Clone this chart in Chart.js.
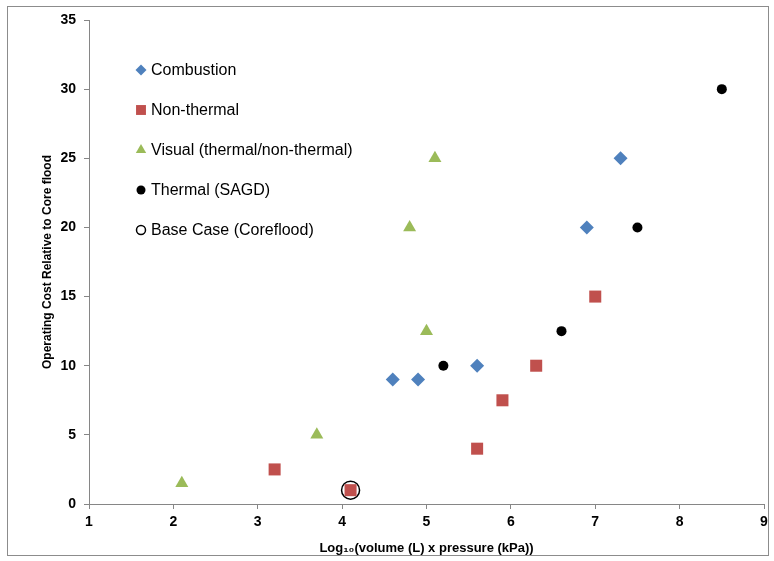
<!DOCTYPE html>
<html>
<head>
<meta charset="utf-8">
<script src="https://cdn.jsdelivr.net/npm/chart.js@4"></script>
<style>
  html, body { margin: 0; padding: 0; background: #fff; }
  #wrap { position: absolute; left: 0; top: 0; width: 774px; height: 561px; }
</style>
</head>
<body>
<div id="wrap"><canvas id="chart" width="774" height="561"></canvas></div>
<script>
// ===== DADOS =====
const combustionX = [4.6, 4.9, 5.6, 6.9, 7.3];
const combustionY = [9, 9, 10, 20, 25];

const nonThermalX = [3.2, 4.1, 5.6, 5.9, 6.3, 7.0];
const nonThermalY = [2.5, 1, 4, 7.5, 10, 15];

const visualX = [2.1, 3.7, 4.8, 5.0, 5.1];
const visualY = [1.5, 5, 20, 12.5, 25];

const thermalX = [5.2, 6.6, 7.5, 8.5];
const thermalY = [10, 12.5, 20, 30];

const baseX = [4.1];
const baseY = [1];

const seriesNames = ['Combustion', 'Non-thermal', 'Visual (thermal/non-thermal)', 'Thermal (SAGD)', 'Base Case (Coreflood)'];
const xTicks = [1, 2, 3, 4, 5, 6, 7, 8, 9];
const yTicks = [0, 5, 10, 15, 20, 25, 30, 35];

const FONT = '"Liberation Sans", Arial, sans-serif';
const pts = (xs, ys) => xs.map((x, i) => ({ x, y: ys[i] }));

// legenda desenhada dentro da área do gráfico
const innerLegend = {
  id: 'innerLegend',
  afterDraw(chart) {
    const c = chart.ctx;
    const x0 = 141, y0 = 70, step = 40;
    chart.data.datasets.forEach((ds, i) => {
      const y = y0 + i * step;
      c.save();
      c.fillStyle = ds.backgroundColor;
      c.strokeStyle = ds.borderColor;
      c.lineWidth = ds.borderWidth;
      Chart.helpers.drawPoint(c, { pointStyle: ds.pointStyle, radius: ds.legendRadius, borderWidth: ds.borderWidth }, x0, y);
      c.restore();
      c.save();
      c.fillStyle = '#000';
      c.font = '16px ' + FONT;
      c.textBaseline = 'middle';
      c.fillText(ds.label, x0 + 10, y + 1);
      c.restore();
    });
  }
};

const frame = {
  id: 'frame',
  beforeDraw(chart) {
    const c = chart.ctx;
    c.save();
    c.fillStyle = '#fff';
    c.fillRect(0, 0, chart.width, chart.height);
    c.strokeStyle = '#8c8c8c';
    c.lineWidth = 1;
    c.strokeRect(7.5, 6.5, 761, 549);
    c.restore();
  }
};

new Chart(document.getElementById('chart'), {
  type: 'scatter',
  data: {
    datasets: [
      { label: seriesNames[0], data: pts(combustionX, combustionY), pointStyle: 'rectRot', pointRadius: 7, legendRadius: 5.5,
        backgroundColor: '#4F81BD', borderColor: '#4F81BD', borderWidth: 0 },
      { label: seriesNames[1], data: pts(nonThermalX, nonThermalY), pointStyle: 'rect', pointRadius: 8.5, legendRadius: 7,
        backgroundColor: '#C0504D', borderColor: '#C0504D', borderWidth: 0 },
      { label: seriesNames[2], data: pts(visualX, visualY), pointStyle: 'triangle', pointRadius: 7.5, legendRadius: 6,
        backgroundColor: '#9BBB59', borderColor: '#9BBB59', borderWidth: 0 },
      { label: seriesNames[3], data: pts(thermalX, thermalY), pointStyle: 'circle', pointRadius: 5, legendRadius: 4.5,
        backgroundColor: '#000', borderColor: '#000', borderWidth: 0 },
      { label: seriesNames[4], data: pts(baseX, baseY), pointStyle: 'circle', pointRadius: 9, legendRadius: 4.5,
        backgroundColor: 'rgba(0,0,0,0)', borderColor: '#000', borderWidth: 1.5 }
    ]
  },
  options: {
    responsive: false,
    animation: false,
    layout: { autoPadding: false, padding: { top: 20, right: 10, bottom: 0, left: 0 } },
    plugins: { legend: { display: false }, tooltip: { enabled: false } },
    scales: {
      x: {
        type: 'linear', min: 1, max: 9,
        afterBuildTicks: s => { s.ticks = xTicks.map(v => ({ value: v })); },
        afterFit: s => { s.height = 57; },
        border: { color: '#868686', width: 1 },
        grid: { drawOnChartArea: false, drawTicks: true, tickLength: 5, color: '#868686' },
        ticks: { color: '#000', padding: 5, font: { family: FONT, size: 14, weight: 'bold' } },
        title: { display: true, text: 'Log\u2081\u2080(volume (L) x pressure (kPa))', color: '#000',
                 padding: { top: 0, bottom: 5 }, font: { family: FONT, size: 13, weight: 'bold' } }
      },
      y: {
        type: 'linear', min: 0, max: 35,
        afterBuildTicks: s => { s.ticks = yTicks.map(v => ({ value: v })); },
        afterFit: s => { s.width = 89; },
        border: { color: '#868686', width: 1 },
        grid: { drawOnChartArea: false, drawTicks: true, tickLength: 5, color: '#868686' },
        ticks: { color: '#000', padding: 8, font: { family: FONT, size: 14, weight: 'bold' } },
        title: { display: true, text: 'Operating Cost Relative to Core flood', color: '#000',
                 padding: { top: 40, bottom: 0 }, font: { family: FONT, size: 12, weight: 'bold' } }
      }
    }
  },
  plugins: [frame, innerLegend]
});
</script>
</body>
</html>
